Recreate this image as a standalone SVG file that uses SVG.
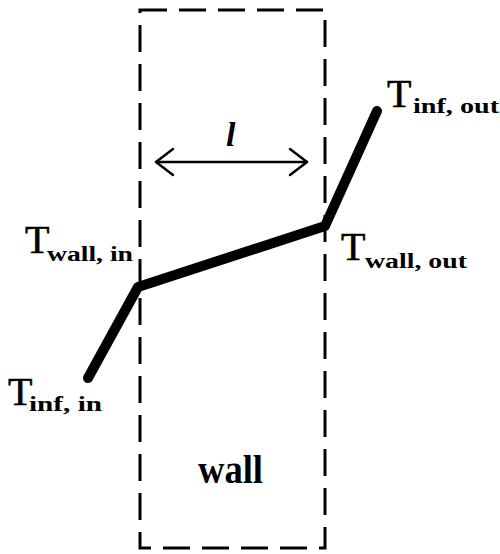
<svg xmlns="http://www.w3.org/2000/svg" width="500" height="554" viewBox="0 0 500 554">
<defs>
<style>
.box{fill:none;stroke:#000;stroke-width:3;stroke-dasharray:27 12}
.temp{fill:none;stroke:#000;stroke-width:10;stroke-linecap:round;stroke-linejoin:round}
.dim{fill:none;stroke:#000;stroke-width:2.5;stroke-linecap:round;stroke-linejoin:round}
.T{font-family:"Liberation Serif",serif;font-size:40px;fill:#000;stroke:#000;stroke-width:0.6}
.sub{font-family:"Liberation Serif",serif;font-size:20px;font-weight:bold;fill:#000}
.lbl{font-family:"Liberation Serif",serif;font-size:40px;font-weight:bold;fill:#000}
</style>
</defs>
<rect width="500" height="554" fill="#fff"/>
<g id="wall">
<rect class="box" x="140" y="10" width="185" height="538"/>
<text class="lbl" x="198" y="483" textLength="65" lengthAdjust="spacingAndGlyphs">wall</text>
</g>
<g id="connectors">
<polyline class="temp" points="88,378 138,287 325,226 377,111"/>
<g id="dimension">
<line class="dim" x1="156" y1="162" x2="307" y2="162"/>
<polyline class="dim" points="173,149 156,162 173,175"/>
<polyline class="dim" points="290,149 307,162 290,175"/>
</g>
</g>
<g id="thickness">
<text x="226" y="146" font-family="Liberation Serif,serif" font-style="italic" font-weight="bold" font-size="34" fill="#000">l</text>
</g>
<g id="T_wall_in">
<text class="T" x="25" y="253">T</text>
<text class="sub" x="47" y="261" textLength="86" lengthAdjust="spacingAndGlyphs">wall, in</text>
</g>
<g id="T_inf_in">
<text class="T" x="8" y="405">T</text>
<text class="sub" x="29" y="411" textLength="73" lengthAdjust="spacingAndGlyphs">inf, in</text>
</g>
<g id="T_wall_out">
<text class="T" x="341" y="260">T</text>
<text class="sub" x="365" y="268" textLength="102" lengthAdjust="spacingAndGlyphs">wall, out</text>
</g>
<g id="T_inf_out">
<text class="T" x="387" y="107">T</text>
<text class="sub" x="413" y="113" textLength="86" lengthAdjust="spacingAndGlyphs">inf, out</text>
</g>
</svg>
